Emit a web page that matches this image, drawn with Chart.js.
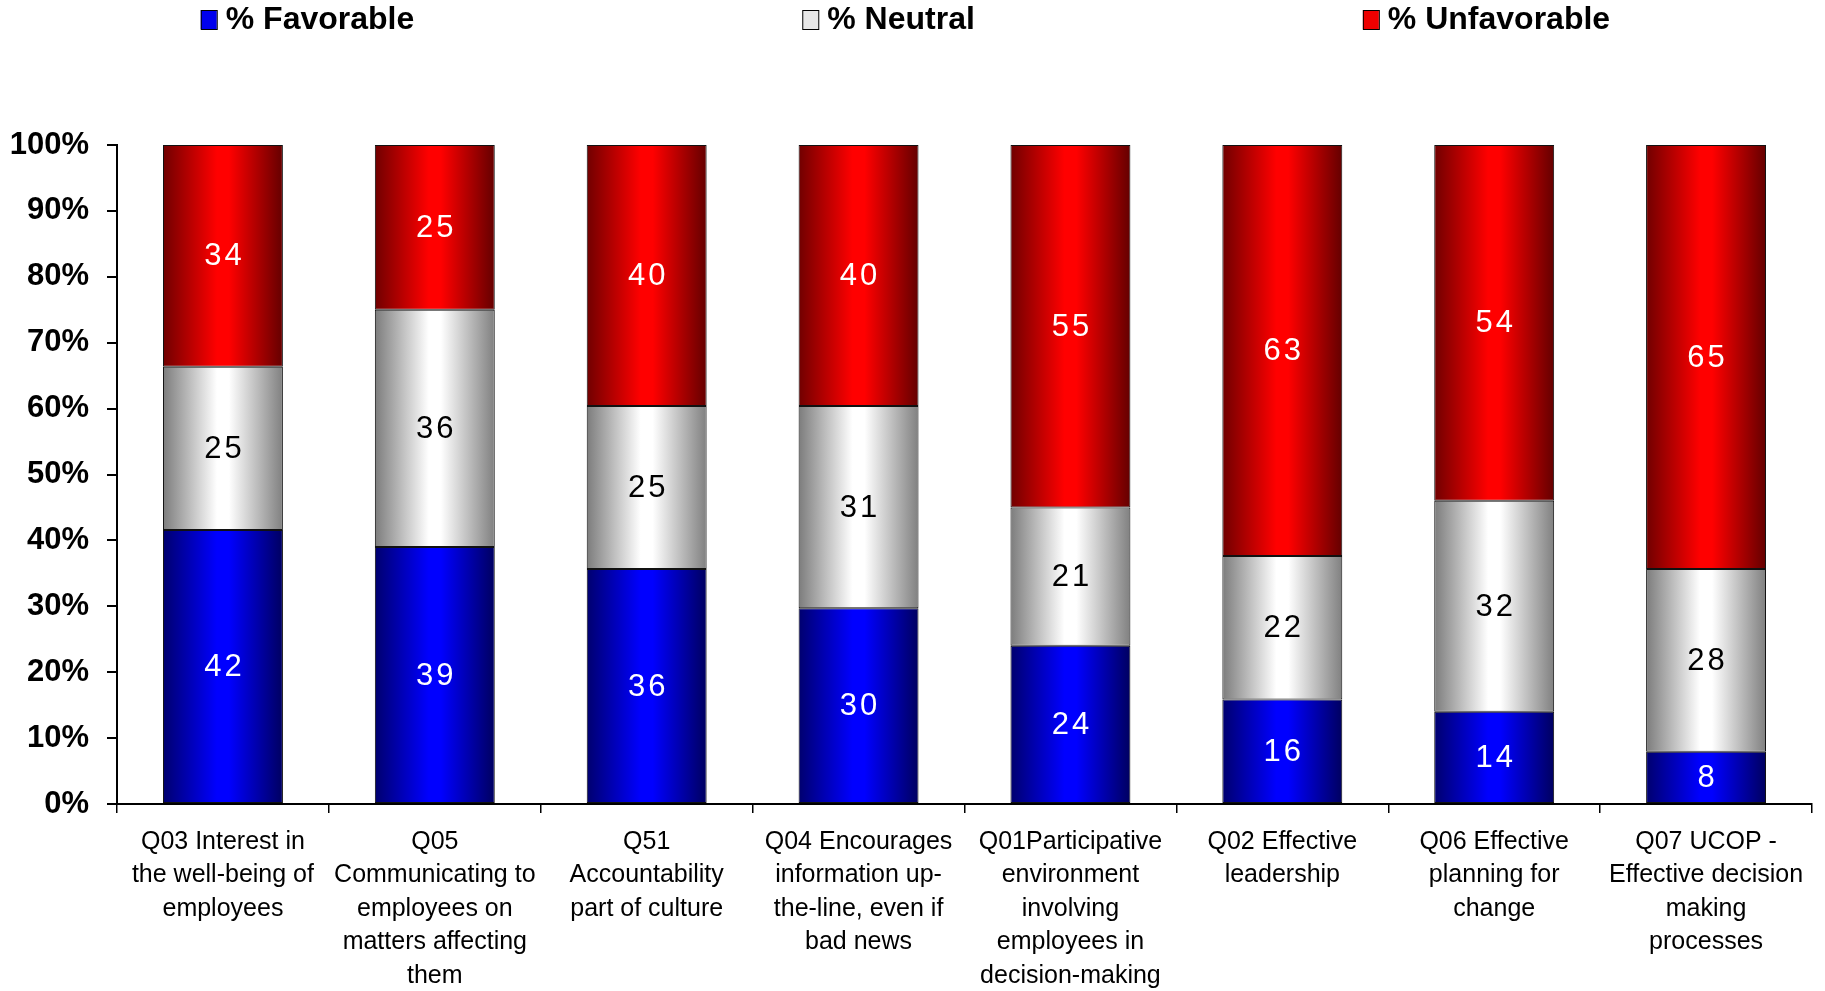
<!DOCTYPE html>
<html lang="en">
  <head>
    <meta charset="UTF-8" />
    <title>Survey results</title>
    <script src="https://cdn.jsdelivr.net/npm/chart.js"></script>
    <style>
      html, body { margin: 0; padding: 0; background: #fff; }
      #wrap { width: 1825px; height: 991px; }
    </style>
  </head>
  <body>
    <div id="wrap">
      <canvas id="myChart"></canvas>
    </div>

    <script>
      // questions on the x axis (already broken into lines)
      const questions = [
        ["Q03 Interest in", "the well-being of", "employees"],
        ["Q05", "Communicating to", "employees on", "matters affecting", "them"],
        ["Q51", "Accountability", "part of culture"],
        ["Q04 Encourages", "information up-", "the-line, even if", "bad news"],
        ["Q01Participative", "environment", "involving", "employees in", "decision-making"],
        ["Q02 Effective", "leadership"],
        ["Q06 Effective", "planning for", "change"],
        ["Q07 UCOP -", "Effective decision", "making", "processes"],
      ];
      const favorable = [42, 39, 36, 30, 24, 16, 14, 8];
      const neutral = [25, 36, 25, 31, 21, 22, 32, 28];
      const unfavorable = [34, 25, 40, 40, 55, 63, 54, 65];
      const seriesNames = ["% Favorable", "% Neutral", "% Unfavorable"];

      const FONT = "'Liberation Sans', Arial, sans-serif";
      const BAR_PCT = 0.566;

      // each column is drawn as a 100% stack
      const totals = favorable.map((v, i) => v + neutral[i] + unfavorable[i]);
      const share = (arr) => arr.map((v, i) => (v / totals[i]) * 100);

      // shaded "cylinder" fill: dark edges, bright middle
      function barFill(edge, mid, edgeRight, fallback) {
        return (c) => {
          const chart = c.chart;
          const x = chart.scales && chart.scales.x;
          if (!x || c.type !== "data") return fallback;
          const center = x.getPixelForValue(c.dataIndex);
          const half = ((x.width / questions.length) * BAR_PCT) / 2;
          if (!isFinite(center) || !isFinite(half) || half <= 0) return fallback;
          const g = chart.ctx.createLinearGradient(center - half, 0, center + half, 0);
          g.addColorStop(0, edge);
          g.addColorStop(0.45, mid);
          g.addColorStop(0.55, mid);
          g.addColorStop(1, edgeRight);
          return g;
        };
      }

      const legendColors = ["#0000ee", "#e8e8e8", "#ee0000"];
      const labelColors = ["#fff", "#000", "#fff"];

      const data = {
        labels: questions,
        datasets: [
          {
            label: seriesNames[0],
            data: share(favorable),
            values: favorable,
            backgroundColor: barFill("#00006e", "#0000ff", "#000060", "#0000ff"),
          },
          {
            label: seriesNames[1],
            data: share(neutral),
            values: neutral,
            backgroundColor: barFill("#7c7c7c", "#ffffff", "#808080", "#eeeeee"),
          },
          {
            label: seriesNames[2],
            data: share(unfavorable),
            values: unfavorable,
            backgroundColor: barFill("#700000", "#ff0000", "#640000", "#ff0000"),
          },
        ],
      };

      // legend row along the top
      const topLegend = {
        id: "topLegend",
        afterDraw(chart) {
          const ctx = chart.ctx;
          const gap = 388;
          ctx.save();
          ctx.font = "bold 32px " + FONT;
          ctx.textBaseline = "middle";
          let x = chart.width * 0.11;
          chart.data.datasets.forEach((ds, i) => {
            ctx.fillStyle = legendColors[i];
            ctx.fillRect(x, 10, 16, 19);
            ctx.strokeStyle = "#000";
            ctx.lineWidth = 1;
            ctx.strokeRect(x + 0.5, 10.5, 16, 19);
            ctx.fillStyle = "#000";
            ctx.fillText(ds.label, x + 25, 20);
            x += 25 + ctx.measureText(ds.label).width + gap;
          });
          ctx.restore();
        },
      };

      // value written in the middle of each segment
      const segmentValues = {
        id: "segmentValues",
        afterDatasetsDraw(chart) {
          const ctx = chart.ctx;
          ctx.save();
          ctx.font = "31px " + FONT;
          ctx.textAlign = "center";
          ctx.textBaseline = "middle";
          if ("letterSpacing" in ctx) ctx.letterSpacing = "3px";
          chart.data.datasets.forEach((ds, i) => {
            const meta = chart.getDatasetMeta(i);
            ctx.fillStyle = labelColors[i];
            meta.data.forEach((bar, j) => {
              const p = bar.getProps(["x", "y", "base"], true);
              ctx.fillText(String(ds.values[j]), p.x + 1.5, (p.y + p.base) / 2 + 1);
            });
          });
          ctx.restore();
        },
      };

      const config = {
        type: "bar",
        data: data,
        options: {
          responsive: true,
          maintainAspectRatio: false,
          animation: false,
          layout: { padding: { top: 145, right: 13, left: 0, bottom: 0 } },
          datasets: {
            bar: {
              barPercentage: BAR_PCT,
              categoryPercentage: 1,
              borderColor: "#111",
              borderWidth: 1,
              borderSkipped: false,
            },
          },
          plugins: {
            legend: { display: false },
            tooltip: { enabled: false },
          },
          scales: {
            x: {
              stacked: true,
              afterFit: (s) => { s.height = 187; },
              border: { color: "#000", width: 2 },
              grid: {
                drawOnChartArea: false,
                color: "#000",
                lineWidth: 1.5,
                tickLength: 9,
              },
              ticks: {
                color: "#000",
                autoSkip: false,
                maxRotation: 0,
                padding: 12,
                font: { family: FONT, size: 25, lineHeight: 1.34 },
              },
            },
            y: {
              stacked: true,
              min: 0,
              max: 100,
              afterFit: (s) => { s.width = 117; },
              border: { color: "#000", width: 2 },
              grid: {
                drawOnChartArea: false,
                color: "#000",
                lineWidth: 2,
                tickLength: 10,
              },
              ticks: {
                stepSize: 10,
                color: "#000",
                padding: 18,
                font: { family: FONT, size: 31, weight: "bold" },
                callback: (v) => v + "%",
              },
            },
          },
        },
        plugins: [segmentValues, topLegend],
      };

      const myChart = new Chart(document.getElementById("myChart"), config);
    </script>
  </body>
</html>
